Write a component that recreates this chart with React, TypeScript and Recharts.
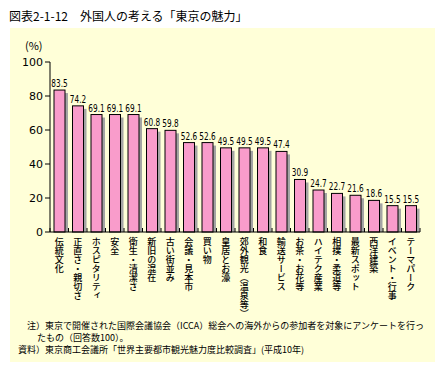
import React from 'react';
import { BarChart, Bar, XAxis, YAxis, LabelList } from 'recharts';

const categories = ['伝統文化', '正直さ・親切さ', 'ホスピタリティ', '安全', '衛生・清潔さ', '新旧の混在', '古い街並み', '会議・見本市', '買い物', '皇居とお濠', '郊外観光（温泉等）', '和食', '輸送サービス', 'お茶・お花等', 'ハイテク産業', '相撲・柔道等', '最新スポット', '西洋建築', 'イベント・行事', 'テーマパーク'];
const values = [83.5, 74.2, 69.1, 69.1, 69.1, 60.8, 59.8, 52.6, 52.6, 49.5, 49.5, 49.5, 47.4, 30.9, 24.7, 22.7, 21.6, 18.6, 15.5, 15.5];
const yTicks = [0, 20, 40, 60, 80, 100];

const title = '図表2-1-12　外国人の考える「東京の魅力」';
const note1 = '注）東京で開催された国際会議協会（ICCA）総会への海外からの参加者を対象にアンケートを行っ';
const note2 = 'たもの（回答数100）。';
const note3 = '資料）東京商工会議所「世界主要都市観光魅力度比較調査」(平成10年)';

const data = categories.map((name, i) => ({ name, value: values[i] }));

const JP = '"Noto Sans CJK JP", "Noto Sans", sans-serif';

const BarShape = (p: any) => {
  const { x, y, width, height } = p;
  return (
    <g>
      <rect x={x + width} y={y + 3} width={3} height={Math.max(0, height - 3)} fill="#a4a4a4" />
      <rect x={x} y={y} width={width} height={height} fill="#F99CCB" stroke="#000" strokeWidth={1} />
    </g>
  );
};

const XTick = (p: any) => {
  const { x, y, payload, index } = p;
  const half = payload && payload.offset ? payload.offset : 9.25;
  const axisY = 232;
  return (
    <g>
      {index === 0 && <line x1={x - half} x2={x - half} y1={axisY} y2={axisY - 4} stroke="#000" />}
      <line x1={x + half} x2={x + half} y1={axisY} y2={axisY - 4} stroke="#000" />
      <text
        x={x}
        y={y}
        fill="#000"
        fontSize={9}
        fontWeight={500}
        fontFamily={JP}
        style={{ writingMode: 'vertical-rl' } as any}
      >
        {payload.value}
      </text>
    </g>
  );
};

const ValueLabel = (p: any) => {
  const { x, y, width, value } = p;
  const cx = Number(x) + Number(width) / 2;
  return (
    <text
      transform={`translate(${cx},${Number(y) - 3}) scale(0.7,1)`}
      textAnchor="middle"
      fill="#000"
      fontSize={10.5}
      fontFamily='"DejaVu Sans", sans-serif'
    >
      {Number(value).toFixed(1)}
    </text>
  );
};

export default function App() {
  return (
    <div style={{ position: 'absolute', left: 0, top: 0, width: 445, height: 370, background: '#fff', overflow: 'hidden' }}>
      <div style={{ position: 'absolute', left: 10, top: 28, width: 425, height: 334, background: '#FFFFD8' }} />
      <div style={{ position: 'absolute', left: 9, top: 7, fontSize: 12, fontFamily: JP, whiteSpace: 'nowrap', lineHeight: '18px' }}>{title}</div>
      <div style={{ position: 'absolute', left: 25, top: 37, fontSize: 11, fontFamily: JP, whiteSpace: 'nowrap', lineHeight: '16px' }}>(%)</div>
      <div style={{ position: 'absolute', left: 27, top: 320, fontSize: 9, fontFamily: JP, whiteSpace: 'nowrap', lineHeight: '12px' }}>{note1}</div>
      <div style={{ position: 'absolute', left: 37, top: 332, fontSize: 9, fontFamily: JP, whiteSpace: 'nowrap', lineHeight: '12px' }}>{note2}</div>
      <div style={{ position: 'absolute', left: 18, top: 344, fontSize: 9, fontFamily: JP, whiteSpace: 'nowrap', lineHeight: '12px' }}>{note3}</div>
      <div style={{ position: 'absolute', left: 0, top: 0 }}>
        <BarChart width={445} height={370} data={data} margin={{ top: 62, right: 25, bottom: 0, left: 10 }} barSize={11}>
          <XAxis
            dataKey="name"
            interval={0}
            height={138}
            tickLine={false}
            tickSize={0}
            tickMargin={5}
            axisLine={{ stroke: '#000' }}
            tick={<XTick />}
          />
          <YAxis
            domain={[0, 100]}
            ticks={yTicks}
            width={40}
            tickSize={5}
            tickMargin={2}
            axisLine={{ stroke: '#000' }}
            tickLine={{ stroke: '#000' }}
            tick={{ fill: '#000', fontSize: 11, fontFamily: '"DejaVu Sans", sans-serif' }}
          />
          <Bar dataKey="value" isAnimationActive={false} shape={<BarShape />}>
            <LabelList dataKey="value" content={<ValueLabel />} />
          </Bar>
        </BarChart>
      </div>
    </div>
  );
}
